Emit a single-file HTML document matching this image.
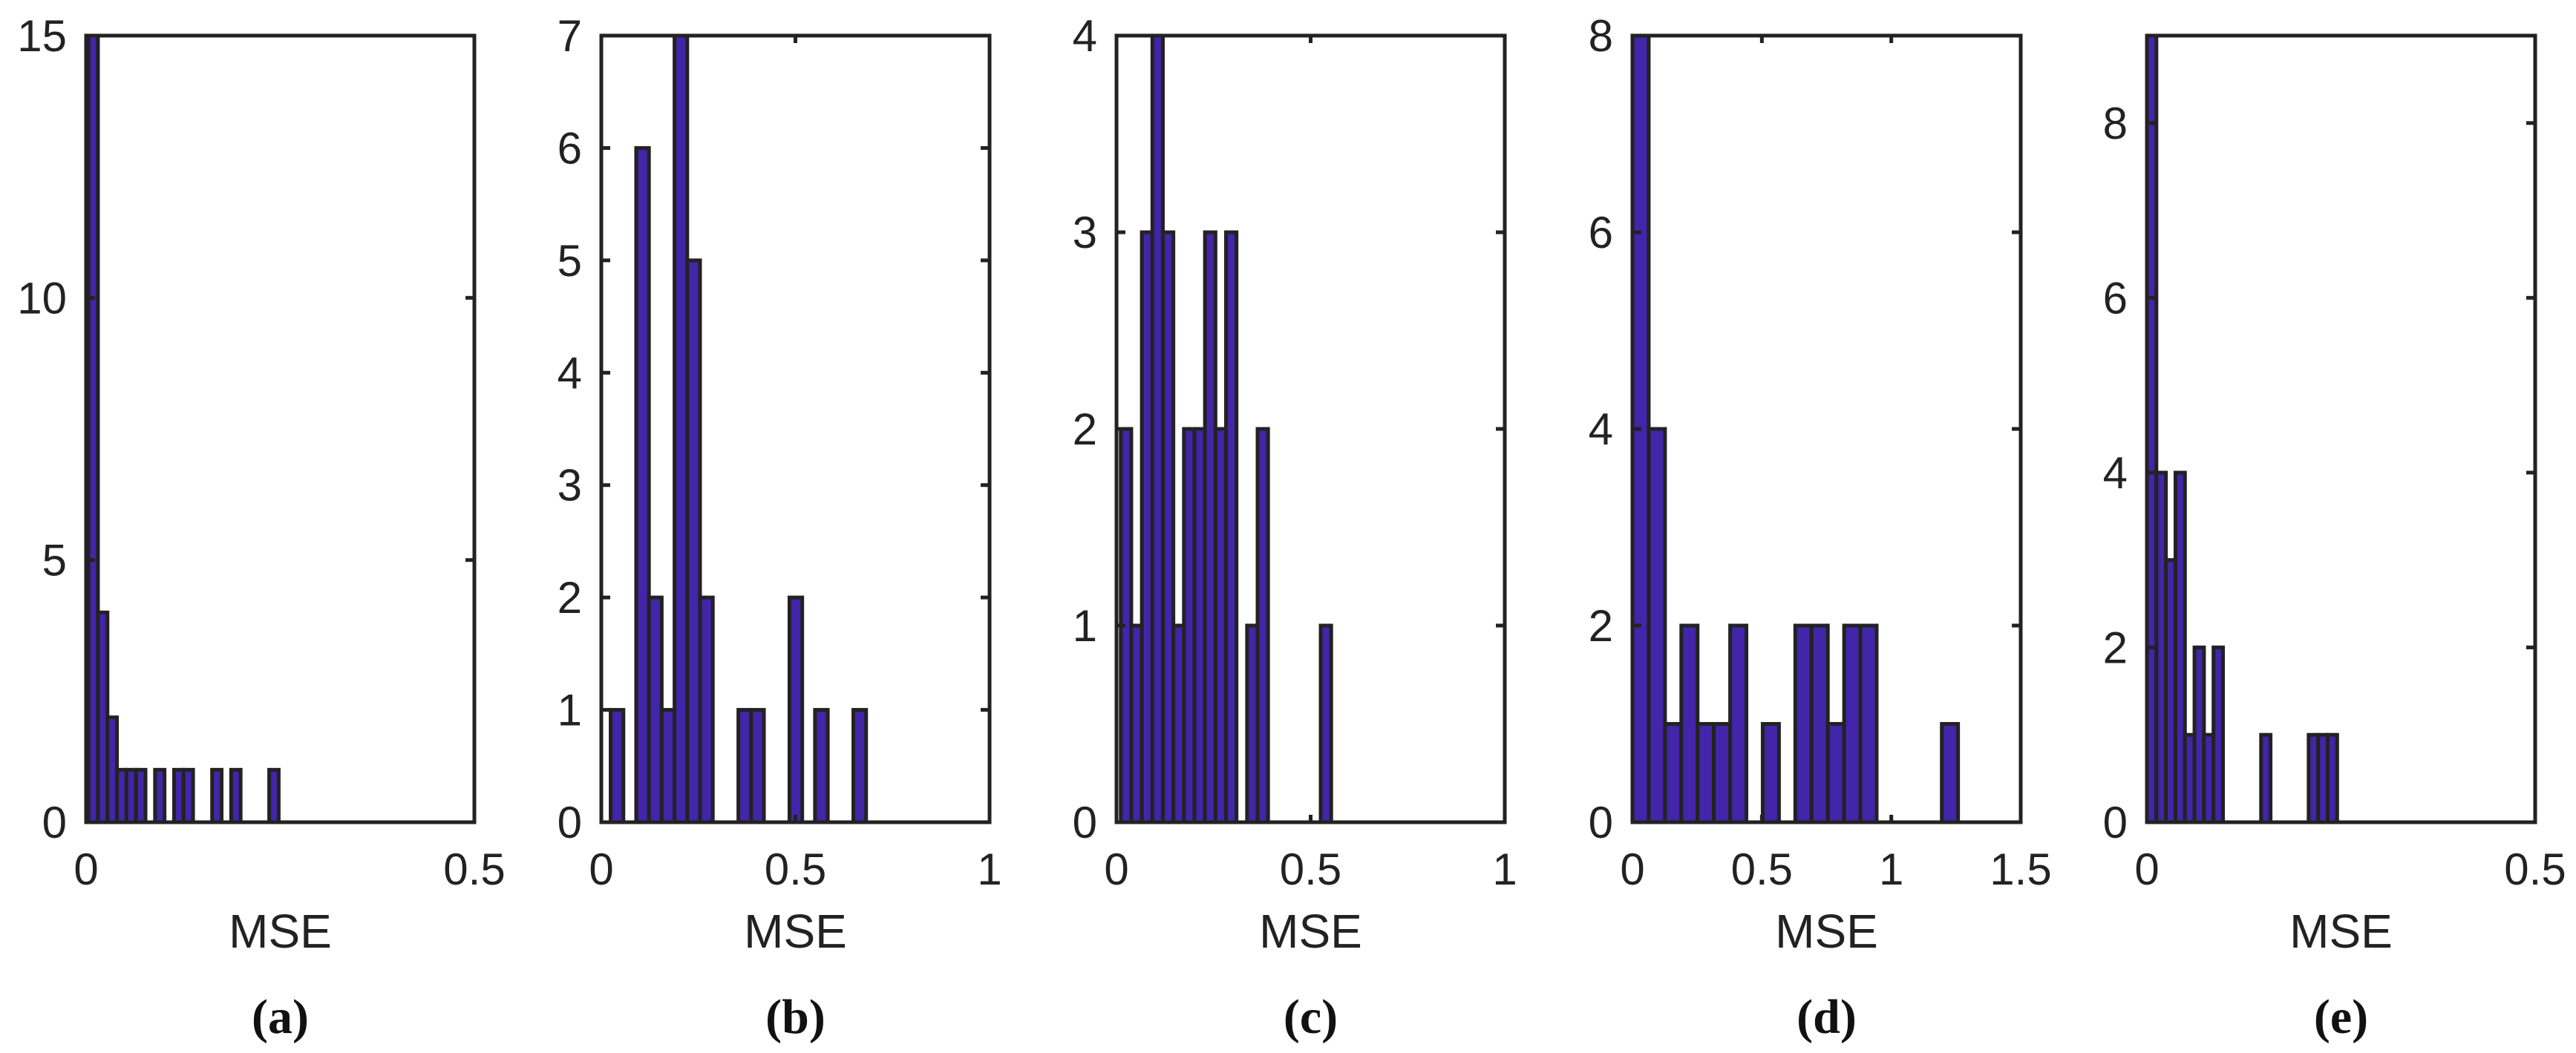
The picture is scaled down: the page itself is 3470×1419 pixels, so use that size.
<!DOCTYPE html>
<html><head><meta charset="utf-8"><style>
html,body{margin:0;padding:0;background:#fff;}
svg{display:block;}
</style></head><body>
<svg id="fig" width="3470" height="1419" viewBox="0 0 3470 1419" xmlns="http://www.w3.org/2000/svg"></svg>
<script>
// Panel data
const panelLetters = ["(a)","(b)","(c)","(d)","(e)"];
const countsA = [15,4,2,1,1,1,0,1,0,1,1,0,0,1,0,1,0,0,0,1];
const countsB = [1,0,6,2,1,7,5,2,0,0,1,1,0,0,2,0,1,0,0,1];
const countsC = [2,1,3,4,3,1,2,2,3,2,3,0,1,2,0,0,0,0,0,1];
const countsD = [8,4,1,2,1,1,2,0,1,0,2,2,1,2,2,0,0,0,0,1];
const countsE = [9,4,3,4,1,2,1,2,0,0,0,0,1,0,0,0,0,1,1,1];
const binStarts = [0.003,0.024,0.011,0.0,0.0];
const binWidths = [0.01225,0.0329,0.0271,0.0629,0.01225];
const xMaxs = [0.5,1,1,1.5,0.5];
const yMaxs = [15,7,4,8,9];
const xTicks = [[0,0.5],[0,0.5,1],[0,0.5,1],[0,0.5,1,1.5],[0,0.5]];
const xTickLabels = [["0","0.5"],["0","0.5","1"],["0","0.5","1"],["0","0.5","1","1.5"],["0","0.5"]];
const yTicks = [[0,5,10,15],[0,1,2,3,4,5,6,7],[0,1,2,3,4],[0,2,4,6,8],[0,2,4,6,8]];
const allCounts = [countsA,countsB,countsC,countsD,countsE];

const NS = "http://www.w3.org/2000/svg";
const svg = document.getElementById('fig');
const lefts = [116,810,1504,2199,2892];
const W = 523, TOP = 48, BOT = 1108;
function mk(tag, attrs, parent){const e=document.createElementNS(NS,tag);for(const k in attrs)e.setAttribute(k,attrs[k]);parent.appendChild(e);return e;}

for(let p=0;p<5;p++){
  const L = lefts[p], R = L+W;
  const xs = v => L + v/xMaxs[p]*W;
  const ys = v => BOT - v/yMaxs[p]*(BOT-TOP);
  const g = mk('g',{},svg);
  
  
  // bars
  const counts = allCounts[p];
  for(let i=0;i<counts.length;i++){
    if(counts[i]<=0) continue;
    const x0 = xs(binStarts[p]+i*binWidths[p]), x1 = xs(binStarts[p]+(i+1)*binWidths[p]);
    const y0 = ys(counts[i]);
    const r = mk('rect',{x:x0,y:y0,width:x1-x0,height:BOT-y0,fill:'#4225a8',stroke:'#222','stroke-width':5},g);
    
    
  }
  // frame
  const f = mk('rect',{x:L,y:TOP,width:W,height:BOT-TOP,fill:'none',stroke:'#222','stroke-width':5},g);
  
  
  // y ticks
  yTicks[p].forEach(v=>{
    const y = ys(v);
    mk('line',{x1:L,x2:L+12,y1:y,y2:y,stroke:'#222','stroke-width':5},g);
    mk('line',{x1:R-12,x2:R,y1:y,y2:y,stroke:'#222','stroke-width':5},g);
    const t = mk('text',{x:L-26,y:y+21,'text-anchor':'end','font-family':'Liberation Sans, sans-serif','font-size':60,fill:'#222'},g);
    t.textContent = String(v);
    
    
  });
  // x ticks
  xTicks[p].forEach((v,k)=>{
    const x = xs(v);
    mk('line',{x1:x,x2:x,y1:BOT,y2:BOT-10,stroke:'#222','stroke-width':5},g);
    mk('line',{x1:x,x2:x,y1:TOP,y2:TOP+10,stroke:'#222','stroke-width':5},g);
    const t = mk('text',{x:x,y:1192,'text-anchor':'middle','font-family':'Liberation Sans, sans-serif','font-size':60,fill:'#222'},g);
    t.textContent = xTickLabels[p][k];
    
    
  });
  const xl = mk('text',{x:(L+R)/2,y:1277,'text-anchor':'middle','font-family':'Liberation Sans, sans-serif','font-size':64,fill:'#222'},g);
  xl.textContent = 'MSE';
  
  
  const pl = mk('text',{x:(L+R)/2,y:1392,'text-anchor':'middle','font-family':'Liberation Serif, serif','font-size':66,'font-weight':'bold',fill:'#111'},g);
  pl.textContent = panelLetters[p];
  
  
}
</script>
</body></html>
